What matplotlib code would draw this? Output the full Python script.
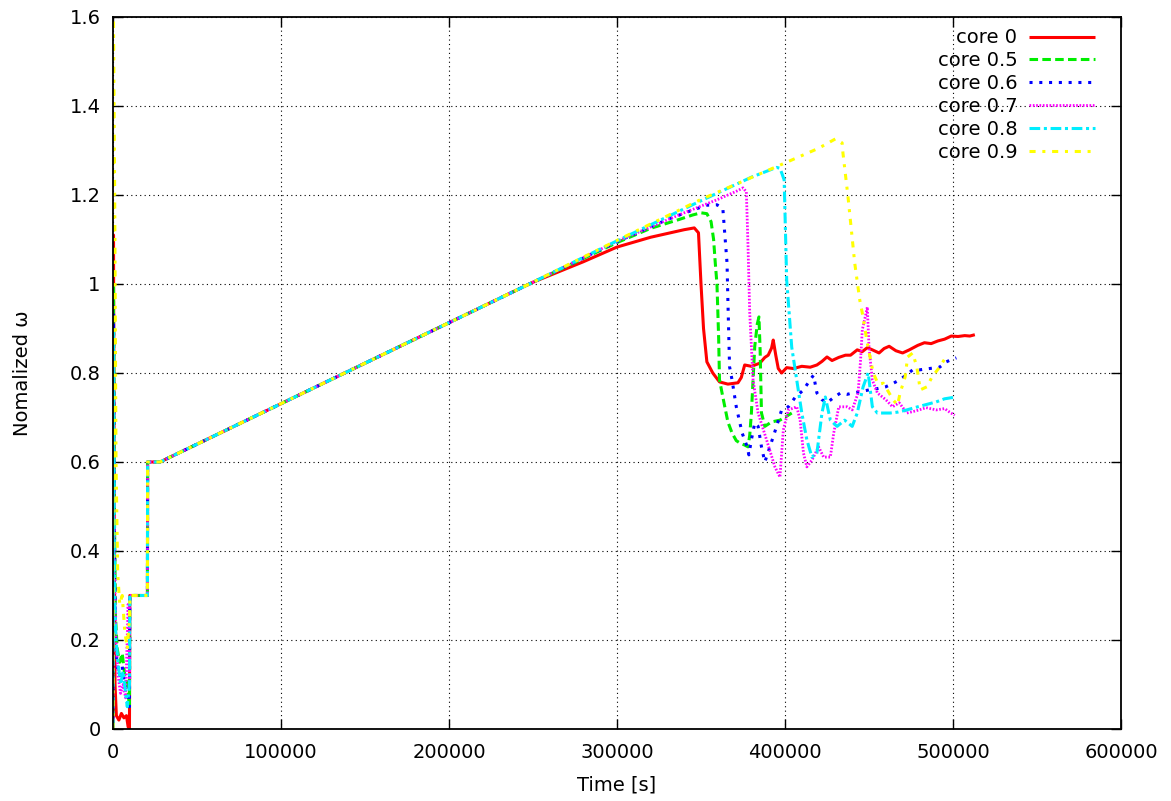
import matplotlib
matplotlib.use('Agg')
import matplotlib.pyplot as plt
from matplotlib.ticker import FuncFormatter, MultipleLocator

# shared part of every run: 0.3 hold, 0.6 hold, then the linear ramp
common_t = [10000, 20500, 20600, 28000, 100000, 200000, 250000]
common_v = [0.3, 0.3, 0.6, 0.6, 0.731, 0.913, 1.004]

# start-up transients (t < 10000 s)
start_t = {
    'core 0':   [0, 300, 700, 1200, 2000, 3500, 5000, 6500, 8000, 9000, 9800],
    'core 0.5': [0, 300, 800, 1500, 2500, 4000, 5500, 7000, 8500, 9800],
    'core 0.6': [0, 300, 800, 1500, 2500, 4000, 5500, 7000, 8500, 9800],
    'core 0.7': [0, 300, 900, 1800, 3000, 4500, 6000, 7500, 9000, 9800],
    'core 0.8': [0, 300, 900, 1800, 3000, 4500, 6000, 7500, 8500, 9800],
    'core 0.9': [0, 200, 1000, 1800, 2800, 4000, 5500, 7000, 8500, 9800],
}
start_v = {
    'core 0':   [0.0, 1.11, 0.5, 0.1, 0.03, 0.02, 0.035, 0.025, 0.03, 0.005, 0.0],
    'core 0.5': [0.0, 1.0, 0.5, 0.25, 0.18, 0.15, 0.17, 0.12, 0.1, 0.05],
    'core 0.6': [0.0, 0.95, 0.45, 0.2, 0.14, 0.12, 0.14, 0.1, 0.08, 0.05],
    'core 0.7': [0.0, 0.85, 0.35, 0.2, 0.12, 0.08, 0.1, 0.07, 0.28, 0.1],
    'core 0.8': [0.0, 0.9, 0.3, 0.2, 0.15, 0.1, 0.13, 0.08, 0.05, 0.1],
    'core 0.9': [0.0, 1.65, 1.2, 0.6, 0.35, 0.28, 0.3, 0.22, 0.18, 0.25],
}

# after 250000 s each core leaves the ramp differently
core0_t = [280000, 300000, 320000, 340000, 346000, 348500, 350000, 351500, 353500, 357000,
           361000, 366000, 372000, 374000, 376000, 380000, 385000, 388000, 390000, 392000,
           393000, 394500, 396000, 398000, 401000, 405000, 410000, 415000, 419000, 422000,
           425000, 428000, 432000, 436000, 439000, 443000, 446000, 449000, 452000, 456000,
           459000, 462000, 466000, 470000, 474000, 479000, 483000, 487000, 491000, 495000,
           499000, 503000, 507000, 510000, 513000]
core0_v = [1.05, 1.083, 1.105, 1.122, 1.126, 1.115, 1.0, 0.9, 0.825, 0.80,
           0.78, 0.775, 0.778, 0.79, 0.818, 0.815, 0.822, 0.835, 0.84, 0.856,
           0.874, 0.84, 0.81, 0.80, 0.812, 0.81, 0.815, 0.813, 0.818, 0.826,
           0.836, 0.828, 0.835, 0.84, 0.84, 0.852, 0.848, 0.857, 0.852, 0.845,
           0.855, 0.86, 0.85, 0.845, 0.852, 0.862, 0.868, 0.866, 0.872, 0.876,
           0.883, 0.882, 0.884, 0.883, 0.886]

core05_t = [300000, 320000, 337000, 345000, 350000, 353500, 356000, 357500, 358500, 359500,
            360500, 361000, 363000, 366000, 368500, 371000, 373000, 376000, 378000, 379000,
            380000, 382000, 383500, 384500, 385200, 386000, 388000, 392000, 397000, 401000, 404000]
core05_v = [1.093, 1.125, 1.145, 1.155, 1.16, 1.158, 1.14, 1.10, 1.047, 1.0,
            0.88, 0.785, 0.746, 0.69, 0.665, 0.648, 0.643, 0.638, 0.634, 0.66,
            0.71, 0.86, 0.91, 0.926, 0.85, 0.71, 0.68, 0.69, 0.694, 0.703, 0.71]

core06_t = [300000, 330000, 345000, 353500, 359500, 363000, 364000, 365500, 366000, 367000,
            368500, 371000, 374500, 377500, 378500, 380000, 382000, 384000, 386000, 388000,
            391000, 395000, 398000, 402000, 406000, 411000, 415000, 417000, 419000, 422000,
            425000, 429000, 433000, 437000, 440000, 445000, 450000, 455000, 460000, 464000,
            468000, 472000, 476000, 480000, 486000, 492000, 496000, 499000, 502000]
core06_v = [1.095, 1.145, 1.166, 1.177, 1.178, 1.17, 1.12, 1.047, 0.964, 0.814,
            0.784, 0.724, 0.665, 0.634, 0.616, 0.65, 0.688, 0.68, 0.634, 0.60,
            0.634, 0.68, 0.717, 0.724, 0.745, 0.762, 0.785, 0.795, 0.755, 0.74,
            0.733, 0.745, 0.755, 0.752, 0.755, 0.758, 0.762, 0.765, 0.769, 0.776,
            0.784, 0.795, 0.807, 0.807, 0.81, 0.813, 0.825, 0.83, 0.834]

core07_t = [300000, 340000, 360000, 372000, 375000, 377000, 378000, 379000, 381000, 384000,
            389000, 394000, 397000, 399000, 402000, 407000, 409000, 411000, 413000, 416000,
            420000, 423000, 427000, 429000, 432000, 437000, 440000, 443500, 445000, 446000,
            448000, 449000, 450000, 452000, 455000, 460000, 464000, 468000, 472500, 478000,
            484000, 490000, 495000, 498000, 501000]
core07_v = [1.096, 1.16, 1.19, 1.21, 1.216, 1.207, 1.083, 0.935, 0.784, 0.71,
            0.65, 0.589, 0.566, 0.672, 0.717, 0.724, 0.694, 0.62, 0.589, 0.604,
            0.634, 0.611, 0.611, 0.665, 0.724, 0.724, 0.717, 0.755, 0.83, 0.897,
            0.93, 0.948, 0.858, 0.784, 0.755, 0.74, 0.724, 0.733, 0.71, 0.715,
            0.722, 0.717, 0.72, 0.712, 0.705]

core08_t = [300000, 350000, 380000, 395000, 397000, 398000, 399500, 401000, 404000, 407000,
            410000, 413000, 416000, 419000, 422000, 424000, 427000, 431000, 435500, 440000,
            443000, 446500, 449500, 452000, 455000, 462500, 467000, 472500, 479000, 485000,
            490000, 495000, 500000]
core08_v = [1.097, 1.187, 1.24, 1.262, 1.26, 1.25, 1.234, 1.009, 0.858, 0.784,
            0.71, 0.65, 0.611, 0.62, 0.71, 0.746, 0.694, 0.68, 0.694, 0.68,
            0.71, 0.769, 0.80, 0.724, 0.71, 0.71, 0.712, 0.717, 0.724, 0.73,
            0.735, 0.742, 0.745]

core09_t = [300000, 350000, 400000, 420000, 430000, 434000, 434500, 437500, 441500, 444500,
            446000, 449000, 452500, 455500, 458500, 462000, 464500, 467000, 468500, 471500,
            473000, 476000, 478500, 480500, 484500, 487500, 492000, 496500]
core09_v = [1.098, 1.19, 1.272, 1.305, 1.326, 1.317, 1.294, 1.196, 1.047, 0.964,
            0.935, 0.867, 0.80, 0.775, 0.777, 0.755, 0.739, 0.728, 0.755, 0.791,
            0.836, 0.845, 0.813, 0.762, 0.769, 0.791, 0.813, 0.84]

tails = {
    'core 0':   (core0_t, core0_v),
    'core 0.5': (core05_t, core05_v),
    'core 0.6': (core06_t, core06_v),
    'core 0.7': (core07_t, core07_v),
    'core 0.8': (core08_t, core08_v),
    'core 0.9': (core09_t, core09_v),
}

styles = {
    'core 0':   dict(color='#ff0000', lw=2.2, ls='-'),
    'core 0.5': dict(color='#00ee00', lw=2.2, ls=(0, (2.8, 1.4))),
    'core 0.6': dict(color='#0000ff', lw=2.2, ls=(0, (1.0, 2.2))),
    'core 0.7': dict(color='#ff00ff', lw=2.0, ls=(0, (0.6, 0.6))),
    'core 0.8': dict(color='#00eeff', lw=2.2, ls=(0, (3.5, 1.2, 1.0, 1.2))),
    'core 0.9': dict(color='#ffff00', lw=2.2, ls=(0, (2.0, 2.2, 1.0, 2.2))),
}

fig = plt.figure(figsize=(11.71, 8.01), dpi=100)
ax = fig.add_axes([0.0965, 0.0899, 0.8608, 0.8889])

for name in start_t:
    t = start_t[name] + common_t + tails[name][0]
    v = start_v[name] + common_v + tails[name][1]
    ax.plot(t, v, label=name, solid_capstyle='butt', dash_capstyle='butt', **styles[name])

ax.set_xlim(0, 600000)
ax.set_ylim(0, 1.6)
ax.xaxis.set_major_locator(MultipleLocator(100000))
ax.yaxis.set_major_locator(MultipleLocator(0.2))
ax.yaxis.set_major_formatter(FuncFormatter(lambda y, p: '%g' % round(y, 2)))
ax.tick_params(direction='in', length=7, width=1, labelsize=14, top=True, right=True)
ax.tick_params(axis='x', pad=10)
ax.tick_params(axis='y', pad=9)
ax.grid(True, color='black', linestyle=(0, (1, 3)), linewidth=0.8)
for sp in ax.spines.values():
    sp.set_linewidth(1.3)

ax.set_xlabel('Time [s]', fontsize=14, labelpad=10)
ax.set_ylabel('Nomalized \u03c9', fontsize=14, labelpad=27)

leg = ax.legend(loc='upper right', bbox_to_anchor=(0.982, 0.995), frameon=False,
                markerfirst=False, fontsize=14, handlelength=3.4, handletextpad=0.6,
                labelspacing=0.2, borderaxespad=0)

fig.savefig('out.png', dpi=100)
